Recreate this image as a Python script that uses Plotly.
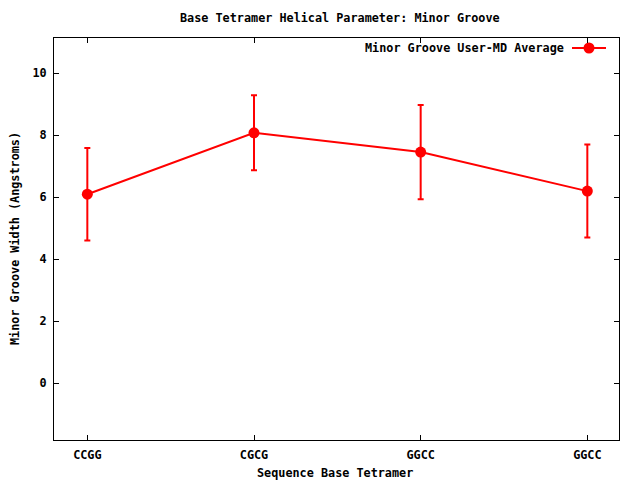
import plotly.graph_objects as go

categories = ["CCGG", "CGCG", "GGCC", "GGCC"]
positions = [0, 1, 2, 3]
minor_groove = [6.10, 8.08, 7.46, 6.20]
errors = [1.49, 1.21, 1.52, 1.50]
y_ticks = [0, 2, 4, 6, 8, 10]

RED = "#ff0000"
FONT = dict(family="DejaVu Sans Mono", size=11.8, color="black", weight="bold")

L, R, T, B = 54, 21, 38, 40
PW, PH = 640 - L - R, 480 - T - B


def px_x(px):
    return (px - L) / PW


def px_y(py):
    return (480 - B - py) / PH


fig = go.Figure()
fig.add_trace(go.Scatter(
    x=positions, y=minor_groove,
    mode="lines+markers",
    line=dict(color=RED, width=2),
    marker=dict(color=RED, size=11),
    error_y=dict(type="data", array=errors, visible=True, color=RED, thickness=2, width=3),
    name="Minor Groove User-MD Average",
    showlegend=False,
))

# manual gnuplot-style legend (text left of sample)
fig.add_annotation(x=px_x(566), y=px_y(48), xref="paper", yref="paper",
                   text="Minor Groove User-MD Average", showarrow=False,
                   xanchor="right", yanchor="middle", font=FONT)
fig.add_shape(type="line", xref="paper", yref="paper",
              x0=px_x(572), x1=px_x(606), y0=px_y(48), y1=px_y(48),
              line=dict(color=RED, width=2))
fig.add_trace(go.Scatter(x=[px_x(589)], y=[px_y(48)], xaxis="x2", yaxis="y2",
                         mode="markers", marker=dict(color=RED, size=11),
                         showlegend=False, hoverinfo="skip"))

# axis titles and chart title as positioned text
fig.add_annotation(x=px_x(340), y=px_y(18), xref="paper", yref="paper",
                   text="Base Tetramer Helical Parameter: Minor Groove",
                   showarrow=False, xanchor="center", yanchor="middle", font=FONT)
fig.add_annotation(x=px_x(335), y=px_y(473), xref="paper", yref="paper",
                   text="Sequence Base Tetramer",
                   showarrow=False, xanchor="center", yanchor="middle", font=FONT)
fig.add_annotation(x=px_x(15), y=0.5, xref="paper", yref="paper",
                   text="Minor Groove Width (Angstroms)", textangle=-90,
                   showarrow=False, xanchor="center", yanchor="middle", font=FONT)

fig.update_layout(
    width=640, height=480,
    margin=dict(l=L, r=R, t=T, b=B),
    paper_bgcolor="white", plot_bgcolor="white",
    font=FONT,
    xaxis=dict(range=[-0.2, 3.19], tickvals=positions, ticktext=categories,
               showgrid=False, zeroline=False, showline=True, linecolor="black",
               linewidth=1, mirror="ticks", ticks="inside", ticklen=5,
               tickcolor="black", automargin=False, ticklabelstandoff=4),
    yaxis=dict(range=[-1.83, 11.14], tickvals=y_ticks,
               showgrid=False, zeroline=False, showline=True, linecolor="black",
               linewidth=1, mirror="ticks", ticks="inside", ticklen=5,
               tickcolor="black", automargin=False, ticklabelstandoff=4),
    xaxis2=dict(range=[0, 1], overlaying="x", visible=False),
    yaxis2=dict(range=[0, 1], overlaying="y", visible=False),
)

fig.write_html("out.html", config={"displayModeBar": False},
               post_script="document.body.style.margin='0';document.body.style.padding='0';")
